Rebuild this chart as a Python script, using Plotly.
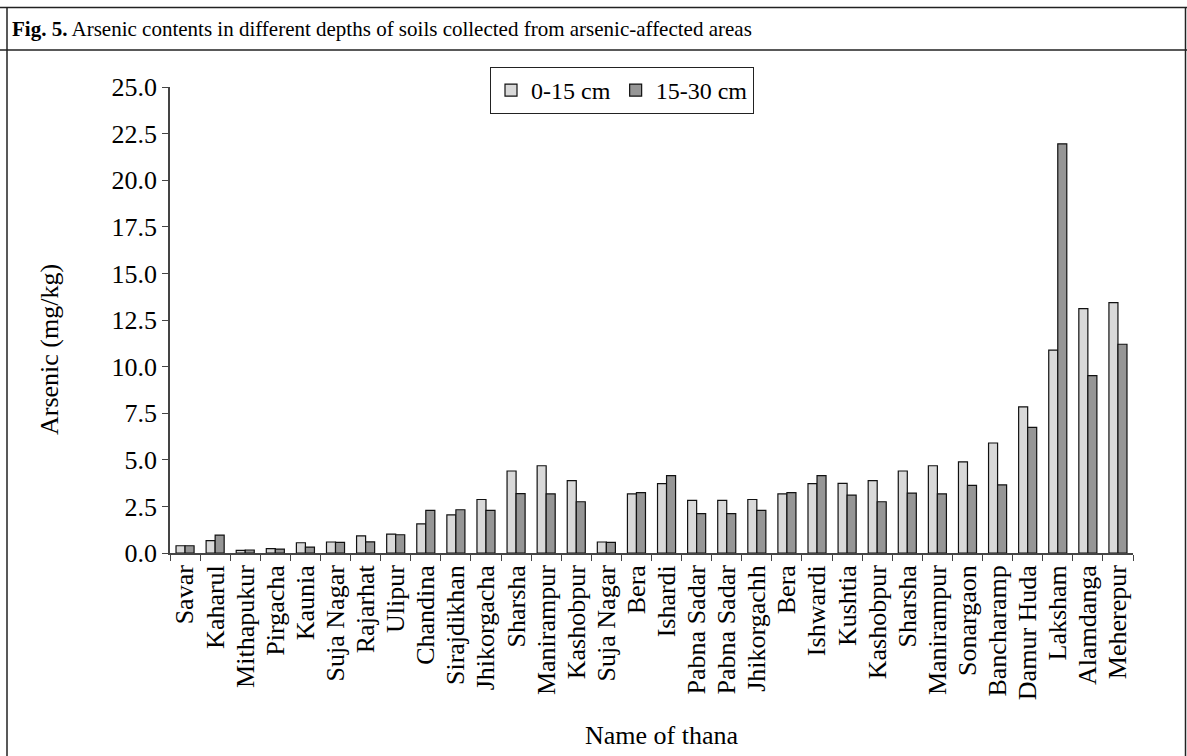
import plotly.graph_objects as go

# ---- data ----
thana = ["Savar", "Kaharul", "Mithapukur", "Pirgacha", "Kaunia", "Suja Nagar", "Rajarhat",
         "Ulipur", "Chandina", "Sirajdikhan", "Jhikorgacha", "Sharsha", "Manirampur",
         "Kashobpur", "Suja Nagar", "Bera", "Ishardi", "Pabna Sadar", "Pabna Sadar",
         "Jhikorgachh", "Bera", "Ishwardi", "Kushtia", "Kashobpur", "Sharsha", "Manirampur",
         "Sonargaon", "Bancharamp", "Damur Huda", "Laksham", "Alamdanga", "Meherepur"]
depth_0_15 = [0.39, 0.66, 0.14, 0.23, 0.55, 0.59, 0.92, 1.01, 1.56, 2.04, 2.87, 4.40, 4.68,
              3.88, 0.59, 3.17, 3.72, 2.82, 2.82, 2.87, 3.17, 3.72, 3.74, 3.88, 4.40, 4.68,
              4.89, 5.90, 7.84, 10.88, 13.11, 13.43]
depth_15_30 = [0.39, 0.96, 0.16, 0.21, 0.32, 0.57, 0.60, 0.98, 2.29, 2.32, 2.29, 3.19, 3.17,
               2.75, 0.57, 3.24, 4.15, 2.11, 2.11, 2.29, 3.24, 4.15, 3.10, 2.75, 3.21, 3.17,
               3.63, 3.65, 6.74, 21.95, 9.52, 11.20]
series_names = ["0-15 cm", "15-30 cm"]
y_ticks = [0, 2.5, 5, 7.5, 10, 12.5, 15, 17.5, 20, 22.5, 25]

# make duplicate category names unique (invisible suffix) so each gets its own slot
seen = {}
cats = []
for n in thana:
    k = seen.get(n, 0)
    cats.append(n + "\u200b" * k)
    seen[n] = k + 1

FONT = "Liberation Serif, Times New Roman, serif"
W, H = 1187, 756
L, R, T, B = 170, 54, 87, 203
PW, PH = W - L - R, H - T - B


def px(x):
    return (x - L) / PW


def py(y):
    return (H - B - y) / PH


fig = go.Figure()
fig.add_trace(go.Bar(x=cats, y=depth_0_15, name=series_names[0],
                     marker=dict(color="#d9d9d9", line=dict(color="#111111", width=1.2))))
fig.add_trace(go.Bar(x=cats, y=depth_15_30, name=series_names[1],
                     marker=dict(color="#969696", line=dict(color="#111111", width=1.2))))

shapes = [
    dict(type="line", xref="paper", yref="paper", x0=px(0), x1=px(W), y0=py(7.5), y1=py(7.5),
         line=dict(color="#222", width=1.5)),
    dict(type="line", xref="paper", yref="paper", x0=px(0), x1=px(W), y0=py(50), y1=py(50),
         line=dict(color="#222", width=1.5)),
    dict(type="line", xref="paper", yref="paper", x0=px(7), x1=px(7), y0=py(7.5), y1=py(H + 5),
         line=dict(color="#222", width=1.5)),
    dict(type="line", xref="paper", yref="paper", x0=px(1185.5), x1=px(1185.5), y0=py(7.5), y1=py(H + 5),
         line=dict(color="#222", width=1.5)),
]

annotations = [
    dict(text="<b>Fig. 5.</b> Arsenic contents in different depths of soils collected from arsenic-affected areas",
         xref="paper", yref="paper", x=px(10), y=py(29), xanchor="left", yanchor="middle",
         showarrow=False, font=dict(family=FONT, size=21, color="black")),
    dict(text="Arsenic (mg/kg)", xref="paper", yref="paper", x=px(49), y=py(350),
         xanchor="center", yanchor="middle", textangle=-90, showarrow=False,
         font=dict(family=FONT, size=26, color="black")),
    dict(text="Name of thana", xref="paper", yref="paper", x=px(662), y=py(735),
         xanchor="center", yanchor="middle", showarrow=False,
         font=dict(family=FONT, size=26, color="black")),
]

fig.update_layout(
    width=W, height=H,
    margin=dict(l=L, r=R, t=T, b=B),
    paper_bgcolor="white", plot_bgcolor="white",
    barmode="group", bargap=0.4, bargroupgap=0.0,
    font=dict(family=FONT, size=24, color="black"),
    shapes=shapes, annotations=annotations,
    showlegend=True,
    legend=dict(orientation="h", x=px(490), y=py(67), xanchor="left", yanchor="top",
                bordercolor="#222", borderwidth=1, bgcolor="white",
                font=dict(family=FONT, size=24, color="black"),
                itemwidth=30, tracegroupgap=0),
    xaxis=dict(type="category", tickmode="linear", tick0=0, dtick=1,
               tickson="boundaries", ticks="outside", ticklen=6,
               tickcolor="#444", showline=True, linecolor="#444", linewidth=1.5,
               showgrid=False, tickangle=-90, tickfont=dict(family=FONT, size=26, color="black"),
               zeroline=False),
    yaxis=dict(range=[0, 25], tickvals=y_ticks, tickformat=".1f", ticks="outside", ticklen=6,
               tickcolor="#444", showline=True, linecolor="#444", linewidth=1.5,
               showgrid=False, zeroline=False,
               tickfont=dict(family=FONT, size=26, color="black")),
)

fig.write_html("out.html", config={"displayModeBar": False},
               post_script="document.body.style.margin='0px';")
